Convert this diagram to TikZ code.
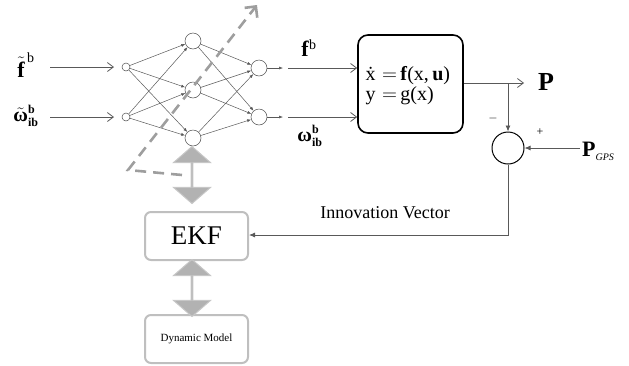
\documentclass[tikz,border=0pt]{standalone}
\usepackage{fontspec}
\setmainfont{Liberation Serif}
\usepackage{amsmath}
\usetikzlibrary{arrows.meta,shapes.arrows}
\begin{document}
\begin{tikzpicture}[x=1pt,y=-1pt,
  neuron/.style={circle,draw=black!70,line width=0.5pt,fill=white,minimum size=16pt,inner sep=0pt},
  inneuron/.style={circle,draw=black!70,line width=0.5pt,fill=white,minimum size=8pt,inner sep=0pt},
  wire/.style={draw=black!65,line width=0.5pt,-{Latex[length=4pt,width=3pt]}},
  openarrow/.style={draw=black!65,line width=0.8pt,-{Straight Barb[length=6pt,width=9pt]}},
  sigline/.style={draw=black!65,line width=0.8pt,-{Latex[length=6pt,width=5pt]}},
  sysbox/.style={draw=black,line width=1.6pt,rounded corners=10pt},
  greybox/.style={draw=black!25,line width=2pt,rounded corners=6pt,fill=white},
  dbl/.style={double arrow,fill=black!30,draw=black!22,line width=1pt,minimum width=37pt,double arrow head extend=9pt,double arrow tip angle=98,inner sep=0pt,shape border rotate=90},
  sumnode/.style={circle,draw=black,line width=1pt,minimum size=32pt,inner sep=0pt},
  lbl/.style={inner sep=1pt}
]
\useasboundingbox (0,0) rectangle (629,365);

% neurons
\node[inneuron] (i1) at (126,67) {};
\node[inneuron] (i2) at (126,117) {};
\node[neuron] (h1) at (193,41) {};
\node[neuron] (h2) at (193,90) {};
\node[neuron] (h3) at (193,138) {};
\node[neuron] (o1) at (259,68) {};
\node[neuron] (o2) at (259,117) {};

\foreach \a in {i1,i2}{\foreach \b in {h1,h2,h3}{\draw[wire] (\a) -- (\b);}}
\foreach \a in {h1,h2,h3}{\foreach \b in {o1,o2}{\draw[wire] (\a) -- (\b);}}

% dashed grey arrow
\coordinate (d0) at (182,175);
\coordinate (d1) at (128,170);
\coordinate (d2) at (257,5);
\draw[black!38,line width=2.6pt,dash pattern=on 11pt off 7pt,-{Straight Barb[length=8pt,width=16pt]}] (d0) -- (d1) -- (d2);

% inputs
\node[lbl] (fin) at (26,65) {\fontsize{22}{24}\selectfont$\tilde{\text{\textbf{f}}}^{\,\text{\fontsize{14}{14}\selectfont b}}$};
\node[lbl] (win) at (26,116) {\fontsize{20}{22}\selectfont$\tilde{\text{\textbf{ω}}}^{\text{\fontsize{12}{12}\selectfont\bfseries b}}_{\text{\fontsize{12}{12}\selectfont\bfseries ib}}$};
\coordinate (a1) at (50,67);
\coordinate (a2) at (50,117);
\coordinate (a1e) at (114,67);
\coordinate (a2e) at (114,117);
\draw[openarrow] (a1) -- (a1e);
\draw[openarrow] (a2) -- (a2e);

% system box
\node[sysbox,minimum width=105pt,minimum height=98pt] (sys) at (410.5,84) {};
\node[anchor=west,font=\fontsize{20}{22}\selectfont] (eq1) at (362,76) {\.x\,\,$=$\,\textbf{f}(x,\,\textbf{u})};
\node[anchor=west,font=\fontsize{20}{22}\selectfont] (eq2) at (362,96) {y\,\,$=$\,g(x)};

% outputs of network
\coordinate (q1) at (283,68);
\coordinate (q2) at (283,117);
\coordinate (r1) at (288,68);
\coordinate (r2) at (288,117);
\draw[wire] (o1) -- (q1);
\draw[wire] (o2) -- (q2);
\draw[openarrow] (r1) -- (sys.west |- r1);
\draw[openarrow] (r2) -- (sys.west |- r2);
\node[lbl] (fb) at (309,48) {\fontsize{22}{24}\selectfont\textbf{f}\textsuperscript{\fontsize{14}{14}\selectfont b}};
\node[lbl] (wb) at (310,136) {\fontsize{20}{22}\selectfont$\text{\textbf{ω}}^{\text{\fontsize{12}{12}\selectfont\bfseries b}}_{\text{\fontsize{12}{12}\selectfont\bfseries ib}}$};

% P output
\coordinate (pout) at (524,83);
\draw[openarrow] (sys.east |- pout) -- (pout);
\node (P) at (546,82) {\fontsize{26}{28}\selectfont\textbf{P}};

% sum
\node[sumnode] (sum) at (508,148) {};
\coordinate (tap) at (508,83);
\draw[sigline] (tap) -- (sum.north);
\node (minus) at (493,118) {\fontsize{12}{12}\selectfont $-$};
\node (plus) at (540,132) {\fontsize{12}{12}\selectfont +};
\coordinate (gps) at (580,148);
\draw[sigline] (gps) -- (sum.east);
\node[anchor=west,inner sep=1pt] (Pg) at (581,151) {\fontsize{22}{24}\selectfont\textbf{P}\raisebox{-4pt}{\fontsize{10}{12}\selectfont\itshape GPS}};

% EKF and dynamic model
\node[greybox,minimum width=103pt,minimum height=48pt,font=\fontsize{27}{30}\selectfont] (ekf) at (196.5,236) {EKF};
\node[greybox,minimum width=103pt,minimum height=48pt,font=\fontsize{11}{13}\selectfont] (dyn) at (196.5,339) {Dynamic Model};
\coordinate (corner) at (508,235);
\draw[sigline] (sum.south) -- (corner) -- (ekf.east |- corner);
\node (innov) at (385,213) {\fontsize{18}{20}\selectfont Innovation Vector};

% grey double arrows
\node[dbl,minimum height=57pt] (da1) at (192,175) {};
\node[dbl,minimum height=57pt] (da2) at (192,288) {};
\end{tikzpicture}
\end{document}
